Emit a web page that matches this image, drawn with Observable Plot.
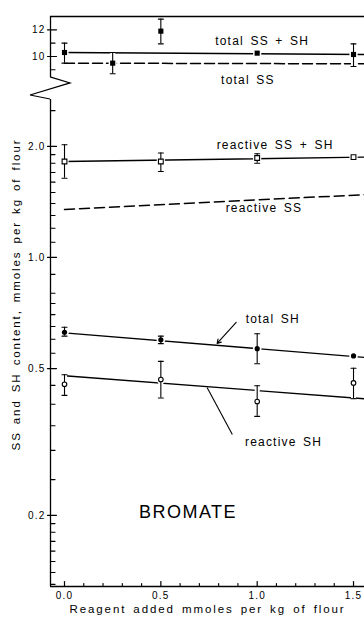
<!DOCTYPE html>
<html><head><meta charset="utf-8">
<script src="https://cdn.jsdelivr.net/npm/d3@7"></script>
<script src="https://cdn.jsdelivr.net/npm/@observablehq/plot@0.6"></script>
<style>
html,body{margin:0;padding:0;background:#fff;}
</style></head><body><div id="chart"></div>
<script>
// ---------- data ----------
const totalSSSH_x  = [0.0, 0.25, 0.5, 1.0, 1.5];
const totalSSSH    = [10.3, 9.5, 11.9, 10.25, 10.15];
const totalSSSH_lo = [9.5, 8.7, 10.95, null, 9.25];
const totalSSSH_hi = [11.0, 10.3, 12.8, null, 10.95];

const doses = [0.0, 0.5, 1.0, 1.5];
const reactiveSSSH    = [1.82, 1.82, 1.86, 1.87];
const reactiveSSSH_lo = [1.64, 1.71, 1.80, null];
const reactiveSSSH_hi = [2.02, 1.92, 1.91, null];

const totalSH    = [0.627, 0.598, 0.566, 0.541];
const totalSH_lo = [0.612, 0.584, 0.515, null];
const totalSH_hi = [0.647, 0.612, 0.621, null];

const reactiveSH    = [0.453, 0.467, 0.407, 0.457];
const reactiveSH_lo = [0.423, 0.416, 0.371, 0.414];
const reactiveSH_hi = [0.481, 0.523, 0.449, 0.501];

// fitted lines: value at start and end of the drawn range
const fitX = [0.0, 1.557];
const fitTotalSSSH    = [10.3, 10.15];
const fitTotalSS      = [9.5, 9.45];
const fitReactiveSSSH = [1.82, 1.87];
const fitReactiveSS   = [1.35, 1.48];
const fitTotalSH      = [0.625, 0.536];
const fitReactiveSH   = [0.478, 0.414];

// annotation labels
const labelText = ["total SS + SH", "total SS", "reactive SS + SH", "reactive SS", "total SH", "reactive SH"];
const labelX    = [1.026, 0.952, 1.093, 1.035, 1.081, 1.137];
const labelV    = [11.15, 8.25, 2.012, 1.364, 0.682, 0.3158];

// tick values
const xMajor = [0.0, 0.5, 1.0, 1.5];
const xMinor = [0.1, 0.2, 0.3, 0.4, 0.6, 0.7, 0.8, 0.9, 1.1, 1.2, 1.3, 1.4];
const yMajor = [0.2, 0.5, 1.0, 2.0, 10, 12];
const yMajorLabels = ["0.2", "0.5", "1.0", "2.0", "10", "12"];
const yMinor = [0.13, 0.14, 0.15, 0.16, 0.17, 0.18, 0.19, 0.25, 0.3, 0.35, 0.4, 0.45, 0.55, 0.6, 0.65, 0.7, 0.75, 0.8, 0.9,
                1.1, 1.2, 1.3, 1.4, 1.5, 1.6, 1.7, 1.8, 1.9, 2.5, 9, 11, 13];

// ---------- broken y axis: log below the break, linear above ----------
const Y_MIN = 0.1283, Y_MAX = 13, BREAK_LOW = 2.68, BREAK_HIGH = 8.43;
const TOP_REF = 10, TOP_POS = 0.5447, TOP_SLOPE = 0.03613;
const f = v => v >= 5 ? TOP_POS + (v - TOP_REF) * TOP_SLOPE : Math.log10(v);
const X_MIN = -0.0727, X_MAX = 1.557;

const rows = (xs, vs, lo, hi) => xs.map((x, i) => ({x, v: vs[i], lo: lo[i], hi: hi[i]}));
const pTotalSSSH = rows(totalSSSH_x, totalSSSH, totalSSSH_lo, totalSSSH_hi);
const pReactiveSSSH = rows(doses, reactiveSSSH, reactiveSSSH_lo, reactiveSSSH_hi);
const pTotalSH = rows(doses, totalSH, totalSH_lo, totalSH_hi);
const pReactiveSH = rows(doses, reactiveSH, reactiveSH_lo, reactiveSH_hi);
const allErr = [...pTotalSSSH, ...pReactiveSSSH, ...pTotalSH, ...pReactiveSH].filter(d => d.lo != null);
const fit = vs => fitX.map((x, i) => ({x, v: vs[i]}));
const labels = labelText.map((t, i) => ({t, x: labelX[i], v: labelV[i]}));

const tickUp = {draw(c, l) { c.moveTo(0, 0); c.lineTo(0, -l); }};
const capShape = {draw(c, l) { c.moveTo(-l / 2, 0); c.lineTo(l / 2, 0); }};

const breakMark = (index, {x, y}) => {
  const x0 = x(X_MIN), y1 = y(f(BREAK_HIGH)), y2 = y(f(BREAK_LOW));
  return d3.create("svg:path")
    .attr("d", `M${x0},${y1}L${x0 + 20},${y1 + 6}L${x0 - 20},${y2 - 4}L${x0},${y2}`)
    .attr("fill", "none").attr("stroke", "black").attr("stroke-width", 1.2).node();
};

const K = "black";
const chart = Plot.plot({
  width: 364, height: 622,
  marginTop: 16, marginBottom: 36, marginLeft: 50, marginRight: 0,
  style: {fontFamily: "'Liberation Sans', Arial, sans-serif", background: "white", color: "black"},
  x: {domain: [X_MIN, X_MAX], axis: null},
  y: {domain: [f(Y_MIN), f(Y_MAX)], axis: null},
  marks: [
    // fitted lines
    Plot.line(fit(fitTotalSSSH), {x: "x", y: d => f(d.v), stroke: K, strokeWidth: 1.3}),
    Plot.line(fit(fitTotalSS), {x: "x", y: d => f(d.v), stroke: K, strokeWidth: 1.5, strokeDasharray: "10,4"}),
    Plot.line(fit(fitReactiveSSSH), {x: "x", y: d => f(d.v), stroke: K, strokeWidth: 1.3}),
    Plot.line(fit(fitReactiveSS), {x: "x", y: d => f(d.v), stroke: K, strokeWidth: 1.5, strokeDasharray: "10,5"}),
    Plot.line(fit(fitTotalSH), {x: "x", y: d => f(d.v), stroke: K, strokeWidth: 1.3}),
    Plot.line(fit(fitReactiveSH), {x: "x", y: d => f(d.v), stroke: K, strokeWidth: 1.3}),
    // white halos to break lines at markers / error bars
    Plot.ruleX(allErr, {x: "x", y1: d => f(d.lo), y2: d => f(d.hi), stroke: "white", strokeWidth: 5}),
    Plot.dot([...pTotalSSSH, ...pReactiveSSSH], {x: "x", y: d => f(d.v), symbol: "square", r: 4.6, fill: "white"}),
    Plot.dot([...pTotalSH, ...pReactiveSH], {x: "x", y: d => f(d.v), r: 4.3, fill: "white"}),
    // error bars
    Plot.ruleX(allErr, {x: "x", y1: d => f(d.lo), y2: d => f(d.hi), stroke: K, strokeWidth: 1.1}),
    Plot.vector(allErr, {x: "x", y: d => f(d.lo), length: 5, rotate: 0, anchor: "start", shape: capShape, stroke: K, strokeWidth: 1.1}),
    Plot.vector(allErr, {x: "x", y: d => f(d.hi), length: 5, rotate: 0, anchor: "start", shape: capShape, stroke: K, strokeWidth: 1.1}),
    // markers
    Plot.dot(pTotalSSSH, {x: "x", y: d => f(d.v), symbol: "square", r: 2.9, fill: K}),
    Plot.dot(pReactiveSSSH, {x: "x", y: d => f(d.v), symbol: "square", r: 2.7, fill: "white", stroke: K, strokeWidth: 1.1}),
    Plot.dot(pTotalSH, {x: "x", y: d => f(d.v), r: 2.6, fill: K}),
    Plot.dot(pReactiveSH, {x: "x", y: d => f(d.v), r: 2.3, fill: "white", stroke: K, strokeWidth: 1.1}),
    // annotations
    Plot.text(labels, {x: "x", y: d => f(d.v), text: "t", fontSize: 12, fill: K}),
    Plot.arrow([{x1: 0.891, v1: 0.6666, x2: 0.792, v2: 0.5847}], {x1: "x1", y1: d => f(d.v1), x2: "x2", y2: d => f(d.v2), headLength: 6, stroke: K, strokeWidth: 1.1}),
    Plot.link([{x1: 0.871, v1: 0.3315, x2: 0.740, v2: 0.4443}], {x1: "x1", y1: d => f(d.v1), x2: "x2", y2: d => f(d.v2), stroke: K, strokeWidth: 1.1}),
    Plot.text(["BROMATE"], {x: 0.641, y: f(0.204), text: d => d, fontSize: 18, fill: K}),
    // axes frame
    Plot.ruleY([Y_MAX], {y: d => f(d), stroke: K, strokeWidth: 1.3}),
    Plot.ruleY([Y_MIN], {y: d => f(d), stroke: K, strokeWidth: 1.3}),
    Plot.ruleX([X_MIN], {x: d => d, y1: f(BREAK_HIGH), y2: f(Y_MAX), stroke: K, strokeWidth: 1.3}),
    Plot.ruleX([X_MIN], {x: d => d, y1: f(Y_MIN), y2: f(BREAK_LOW), stroke: K, strokeWidth: 1.3}),
    breakMark,
    // x ticks
    Plot.vector(xMajor, {x: d => d, y: f(Y_MIN), length: 5, rotate: 0, anchor: "start", shape: tickUp, stroke: K, strokeWidth: 1.2}),
    Plot.vector(xMinor, {x: d => d, y: f(Y_MIN), length: 3, rotate: 0, anchor: "start", shape: tickUp, stroke: K, strokeWidth: 1.1}),
    Plot.text(xMajor, {x: d => d, y: f(Y_MIN), dy: 9, text: d => d.toFixed(1), fontSize: 10, fill: K}),
    // y ticks
    Plot.vector(yMajor, {x: X_MIN, y: d => f(d), dx: -3, length: 9, rotate: 90, anchor: "start", shape: tickUp, stroke: K, strokeWidth: 1.2}),
    Plot.vector(yMinor, {x: X_MIN, y: d => f(d), length: 4.5, rotate: 90, anchor: "start", shape: tickUp, stroke: K, strokeWidth: 1.1}),
    Plot.text(yMajor, {x: X_MIN, y: d => f(d), dx: -5, textAnchor: "end", text: (d, i) => yMajorLabels[i], fontSize: 10, fill: K}),
    // axis titles
    Plot.text(["Reagent added mmoles per kg of flour"], {frameAnchor: "bottom", textAnchor: "middle", dy: 26, text: d => d, fontSize: 11.5, fill: K}),
    Plot.text(["SS and SH content, mmoles per kg of flour"], {frameAnchor: "left", textAnchor: "middle", dx: -34, dy: -7, rotate: -90, text: d => d, fontSize: 11.5, fill: K})
  ]
});
const svg = d3.select(chart);
svg.selectAll("text").style("letter-spacing", "1.2px").style("word-spacing", "2px");
svg.selectAll("text").filter(function() { return /Reagent|content/.test(this.textContent); })
  .style("letter-spacing", "1.9px").style("word-spacing", "2px");
svg.selectAll("text").filter(function() { return this.textContent === "BROMATE"; }).style("letter-spacing", "1.5px");
document.getElementById("chart").appendChild(chart);
</script></body></html>
